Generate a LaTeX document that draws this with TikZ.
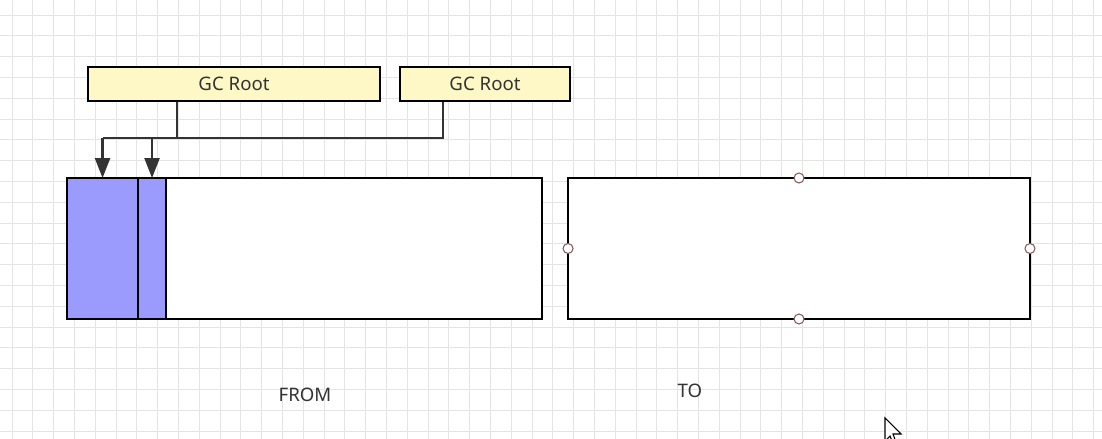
\documentclass[tikz,border=0pt]{standalone}
\usepackage{fontspec}
\setmainfont{Noto Sans}
\usetikzlibrary{arrows.meta}
\definecolor{gridgray}{HTML}{E4E4E4}
\definecolor{rootfill}{HTML}{FDF8C6}
\definecolor{cellblue}{HTML}{9A9BFD}
\definecolor{inkgray}{HTML}{333333}
\definecolor{handle}{HTML}{8A5A5A}

\begin{document}
\begin{tikzpicture}[x=0.02cm,y=-0.02cm,line width=1.1pt,
  font=\fontsize{10.6}{12}\selectfont,
  rootbox/.style={draw=black,fill=rootfill,inner sep=0pt,minimum height=0.68cm,text=inkgray},
  space/.style={draw=black,fill=white,inner sep=0pt,outer sep=0pt,minimum height=2.82cm},
  cell/.style={draw=black,fill=cellblue,inner sep=0pt,outer sep=0pt,minimum height=2.82cm,anchor=north west},
  handledot/.style={circle,draw=handle,fill=white,line width=0.6pt,inner sep=0pt,minimum size=0.2cm},
  link/.style={draw=inkgray,line width=1.4pt},
  tip/.style={-{Triangle[width=0.3cm,length=0.4cm]}}]
  \useasboundingbox (0,0) rectangle (1102,439);
  \fill[white] (0,0) rectangle (1102,439);
  % background grid
  \foreach \i in {0,...,52} \draw[gridgray,line width=0.5pt] (12+20.8*\i,0)--(12+20.8*\i,439);
  \foreach \j in {0,...,20} \draw[gridgray,line width=0.5pt] (0,15+20.8*\j)--(1102,15+20.8*\j);
  % roots
  \node[rootbox,minimum width=5.84cm] (root1) at (234,84) {GC Root};
  \node[rootbox,minimum width=3.4cm] (root2) at (485,84) {GC Root};
  % from / to spaces
  \node[space,minimum width=9.5cm] (from) at (304.5,248.5) {};
  \node[space,minimum width=9.24cm] (to) at (799,248.5) {};
  \node[cell,minimum width=1.42cm] (cellA) at (from.north west) {};
  \node[cell,minimum width=0.56cm] (cellB) at (cellA.north east) {};
  \foreach \a in {north,west,east,south} \node[handledot] (h\a) at (to.\a) {};
  % links
  \coordinate (busL) at (177,138);
  \coordinate (busR) at (443,138);
  \draw[link] (root1.south -| busL)--(busL);
  \draw[link] (root2.south -| busR)--(busR)--(cellA.north |- busR);
  \draw[link,tip] (cellA.north |- busR)--(cellA.north);
  \draw[link,tip] (cellB.north |- busR)--(cellB.north);
  % labels
  \node[text=inkgray] (fromlabel) at (305,395) {FROM};
  \node[text=inkgray] (tolabel) at (690,391) {TO};
  % pointer
  \draw[line width=0.6pt,fill=white] (885,418)--(885,441)--(890,436)--(894,446)--(897,445)--(893,434)--(901,434)--cycle;
\end{tikzpicture}
\end{document}
